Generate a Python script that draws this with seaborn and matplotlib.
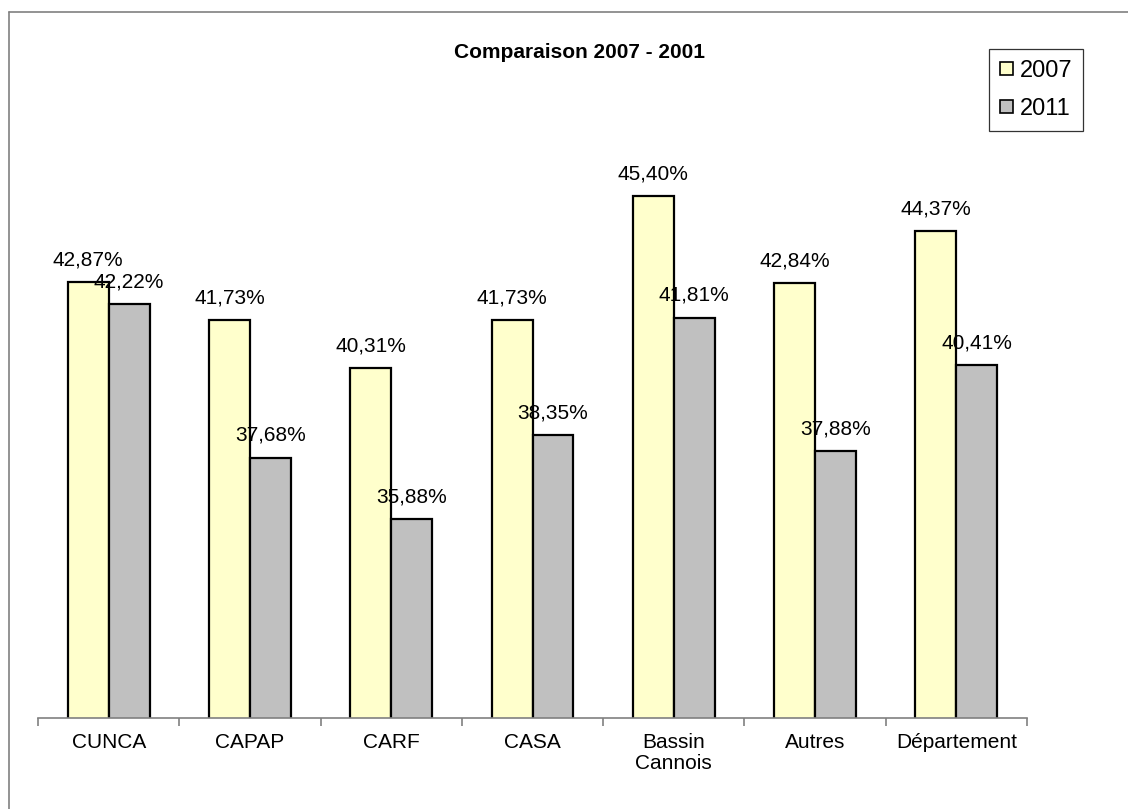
import numpy as np
import pandas as pd
import matplotlib
matplotlib.use('Agg')
import matplotlib.pyplot as plt
from matplotlib.lines import Line2D
import seaborn as sns

# Donnees
zones = ['CUNCA', 'CAPAP', 'CARF', 'CASA', 'Bassin\nCannois', 'Autres', 'Département']
val_2007 = [42.87, 41.73, 40.31, 41.73, 45.40, 42.84, 44.37]
val_2011 = [42.22, 37.68, 35.88, 38.35, 41.81, 37.88, 40.41]
annees = ['2007', '2011']
couleurs = ['#FFFFCC', '#C0C0C0']

sns.set_style('white')
plt.rcParams['font.family'] = ['Liberation Sans', 'DejaVu Sans']
plt.rcParams['text.color'] = 'black'
plt.rcParams['xtick.labelcolor'] = 'black'

df = pd.DataFrame({
    'zone': zones * 2,
    'valeur': val_2007 + val_2011,
    'annee': [annees[0]] * len(zones) + [annees[1]] * len(zones),
})

fig = plt.figure(figsize=(11.28, 8.09), dpi=100)
ax = fig.add_axes([38 / 1128, 1 - 718 / 809, 989 / 1128, 678 / 809])

sns.barplot(data=df, x='zone', y='valeur', hue='annee', palette=couleurs,
            width=0.58, edgecolor='black', linewidth=1.6, ax=ax,
            errorbar=None, saturation=1)

ax.set_ylim(30, 50)
ax.set_xlim(-0.5, len(zones) - 0.5)

# etiquettes de valeurs
for cont in ax.containers:
    for bar in cont:
        h = bar.get_height()
        ax.annotate(f"{h:.2f}".replace('.', ',') + '%',
                    (bar.get_x() + bar.get_width() / 2, h),
                    xytext=(0, 12), textcoords='offset points',
                    ha='center', va='baseline', fontsize=15, color='black')

# axes style Excel
for s in ['top', 'right', 'left']:
    ax.spines[s].set_visible(False)
ax.spines['bottom'].set_color('#808080')
ax.spines['bottom'].set_linewidth(1.2)
ax.set_yticks([])
ax.set_xlabel('')
ax.set_ylabel('')
ax.set_xticks(range(len(zones)))
ax.set_xticklabels(zones, fontsize=15, linespacing=1.1, color='black')
ax.tick_params(axis='x', which='major', length=0, pad=11, bottom=True)
ax.set_xticks(np.arange(-0.5, len(zones), 1), minor=True)
ax.tick_params(axis='x', which='minor', length=6, width=1.2, bottom=True,
               color='#808080', direction='out')

fig.text(580 / 1128, 1 - 52 / 809, 'Comparaison 2007 - 2001',
         ha='center', va='center', fontsize=15, fontweight='bold', color='black')

ax.legend_.remove()
handles = [plt.Rectangle((0, 0), 1, 1, facecolor=c, edgecolor='black', linewidth=1.2)
           for c in couleurs]
leg = fig.legend(handles, annees, loc='upper right',
                 bbox_to_anchor=(1083 / 1128, 1 - 49 / 809),
                 fontsize=17, frameon=True, fancybox=False,
                 handlelength=0.55, handleheight=0.45, handletextpad=0.3,
                 borderpad=0.45, labelspacing=0.7, borderaxespad=0)
leg.get_frame().set_edgecolor('black')
leg.get_frame().set_linewidth(0.9)

# cadre du graphique
fig.add_artist(Line2D([9 / 1128, 1.0], [1 - 12 / 809] * 2,
                      transform=fig.transFigure, color='#808080', linewidth=1.2))
fig.add_artist(Line2D([9 / 1128] * 2, [0, 1 - 12 / 809],
                      transform=fig.transFigure, color='#808080', linewidth=1.2))

fig.savefig('out.png', dpi=100)
